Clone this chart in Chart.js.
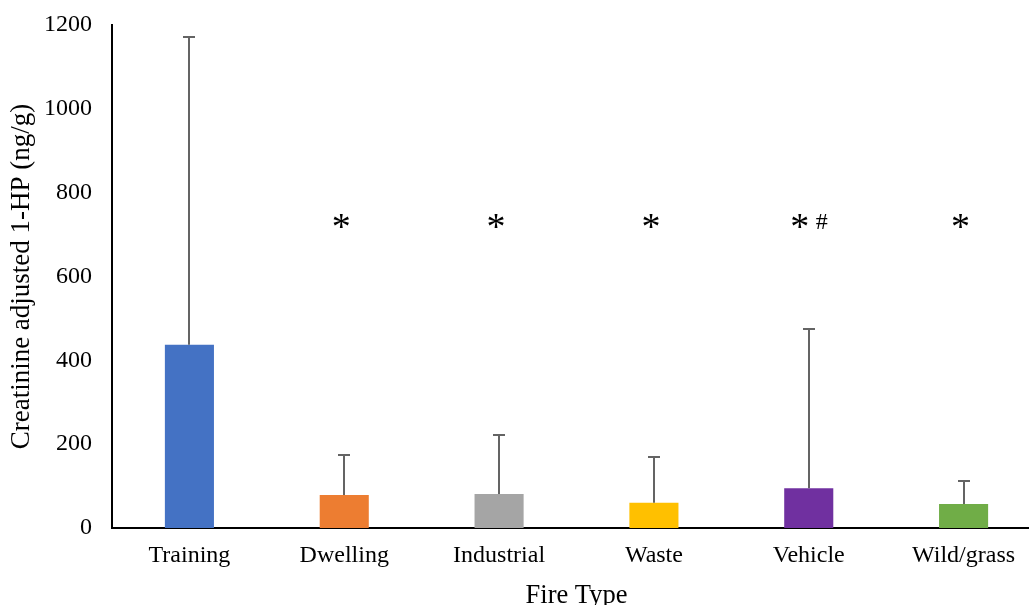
<!DOCTYPE html>
<html>
<head>
<meta charset="utf-8">
<script src="https://cdn.jsdelivr.net/npm/chart.js@4.4.1/dist/chart.umd.min.js"></script>
<style>
  html, body { margin: 0; padding: 0; background: #fff; overflow: hidden; }
  #wrap { width: 1042px; height: 605px; position: relative; }
</style>
</head>
<body>
<div id="wrap"><canvas id="c"></canvas></div>
<script>
// Fire types and creatinine-adjusted 1-HP (ng/g): mean and standard deviation
const categories = ['Training', 'Dwelling', 'Industrial', 'Waste', 'Vehicle', 'Wild/grass'];
const means = [437, 79, 81, 60, 95, 57];
const sds = [734, 95, 141, 109, 380, 54];
const barColors = ['#4472C4', '#ED7D31', '#A5A5A5', '#FFC000', '#7030A0', '#70AD47'];
// Significance marks: * vs Training, # vs another group
const starMarks = ['', '*', '*', '*', '*', '*'];
const hashMarks = ['', '', '', '', '#', ''];
const markLevel = 733;
const yTicks = [0, 200, 400, 600, 800, 1000, 1200];

const serif = "'Liberation Serif', 'Times New Roman', serif";

const errorBars = {
  id: 'errorBars',
  afterDatasetsDraw(chart) {
    const { ctx, scales: { x, y } } = chart;
    ctx.save();
    ctx.strokeStyle = '#646464';
    ctx.lineWidth = 2;
    means.forEach((m, i) => {
      const px = Math.round(x.getPixelForValue(i));
      const y0 = y.getPixelForValue(m);
      const y1 = Math.round(y.getPixelForValue(m + sds[i]));
      ctx.beginPath();
      ctx.moveTo(px, y0);
      ctx.lineTo(px, y1);
      ctx.moveTo(px - 6, y1);
      ctx.lineTo(px + 6, y1);
      ctx.stroke();
    });
    ctx.restore();
  }
};

const sigMarks = {
  id: 'sigMarks',
  afterDatasetsDraw(chart) {
    const { ctx, scales: { x, y } } = chart;
    const py = y.getPixelForValue(markLevel);
    ctx.save();
    ctx.fillStyle = '#000';
    ctx.textBaseline = 'middle';
    ctx.textAlign = 'center';
    categories.forEach((c, i) => {
      const px = x.getPixelForValue(i);
      const hasHash = hashMarks[i] !== '';
      if (starMarks[i]) {
        ctx.font = '38px ' + serif;
        ctx.fillText(starMarks[i], px - (hasHash ? 9 : 3), py + 8);
      }
      if (hasHash) {
        ctx.font = '24px ' + serif;
        ctx.fillText(hashMarks[i], px + 13, py + 2);
      }
    });
    ctx.restore();
  }
};

new Chart(document.getElementById('c'), {
  type: 'bar',
  data: {
    labels: categories,
    datasets: [{
      data: means,
      backgroundColor: barColors,
      borderWidth: 0,
      categoryPercentage: 1,
      barPercentage: 0.317
    }]
  },
  options: {
    responsive: true,
    maintainAspectRatio: false,
    animation: false,
    layout: { padding: { top: 25, right: 1, left: 0, bottom: 0 } },
    plugins: {
      legend: { display: false },
      tooltip: { enabled: false }
    },
    scales: {
      x: {
        grid: { display: false, drawTicks: false },
        border: { display: true, color: '#000', width: 2 },
        ticks: { color: '#000', font: { family: serif, size: 24 }, padding: 13 },
        title: {
          display: true, text: 'Fire Type', color: '#000',
          font: { family: serif, size: 26.5, lineHeight: 0.68 },
          padding: { top: 0, bottom: 0 }
        },
        afterFit(scale) { scale.height = 77; }
      },
      y: {
        min: 0, max: 1200,
        grid: { display: false, drawTicks: false },
        border: { display: true, color: '#000', width: 2 },
        afterBuildTicks(scale) { scale.ticks = yTicks.map(v => ({ value: v })); },
        ticks: {
          color: '#000', font: { family: serif, size: 24 }, padding: 20,
          callback: (v) => String(v)
        },
        title: {
          display: true, text: 'Creatinine adjusted 1-HP (ng/g)', color: '#000',
          font: { family: serif, size: 27 },
          padding: { top: 6, bottom: 0 }
        },
        afterFit(scale) {
          scale.width = 112;
          scale.paddingTop = 0;
          scale.paddingBottom = 0;
        }
      }
    }
  },
  plugins: [errorBars, sigMarks]
});
</script>
</body>
</html>
